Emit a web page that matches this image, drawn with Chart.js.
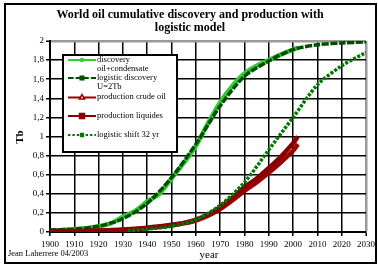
<!DOCTYPE html>
<html>
<head>
<meta charset="utf-8">
<script src="https://cdn.jsdelivr.net/npm/chart.js@4.4.1/dist/chart.umd.min.js"></script>
<style>
  body { margin: 0; background: #fff; }
  canvas { display: block; }
</style>
</head>
<body>
<canvas id="oilChart" width="378" height="265"></canvas>
<script>
// ================= DATA =================
const discYears  = [1900,1905,1910,1915,1920,1925,1930,1935,1940,1945,1950,1955,1960,1965,1970,1975,1980,1985,1990,1995,2000,2002];
const discValues = [0.01,0.02,0.03,0.04,0.06,0.09,0.16,0.22,0.32,0.40,0.56,0.72,0.90,1.14,1.36,1.53,1.66,1.74,1.80,1.86,1.91,1.93];

const logYears  = [1900,1910,1920,1930,1940,1950,1960,1970,1980,1990,2000,2010,2020,2030];
const logValues = [0.02,0.03,0.06,0.14,0.30,0.57,0.92,1.32,1.63,1.79,1.91,1.96,1.98,1.99];

const prodYears    = [1900,1910,1920,1930,1940,1950,1955,1960,1965,1970,1975,1980,1985,1990,1995,2000,2002];
const crudeValues  = [0.00,0.005,0.01,0.02,0.04,0.07,0.09,0.12,0.17,0.24,0.33,0.43,0.52,0.62,0.73,0.85,0.92];
const liquidValues = [0.01,0.01,0.015,0.025,0.045,0.075,0.095,0.13,0.18,0.26,0.36,0.47,0.56,0.67,0.79,0.93,1.00];

const shiftYears  = [1932,1940,1950,1960,1970,1980,1990,2000,2010,2020,2030];
const shiftValues = [0.01,0.03,0.06,0.13,0.28,0.52,0.86,1.20,1.54,1.74,1.88];

const titleLines = ["World oil cumulative discovery and production with", "logistic model"];
const legendItems = [
  ["discovery", "oil+condensate"],
  ["logistic discovery", "U=2Tb"],
  ["production crude oil"],
  ["production liquides"],
  ["logistic shift 32 yr"]
];

const SERIF = '"Liberation Serif", "Times New Roman", serif';

function pts(xs, ys) {
  return xs.map((x, i) => ({ x: x, y: ys[i] }));
}

// ================= DATASETS =================
const datasets = [
  {
    label: "discovery oil+condensate",
    data: pts(discYears, discValues),
    borderColor: "#33cc33", backgroundColor: "#33cc33",
    borderWidth: 4.5, pointRadius: 0,
    order: 5
  },
  {
    label: "logistic discovery U=2Tb",
    data: pts(logYears, logValues),
    borderColor: "#004d00", backgroundColor: "#004d00",
    borderWidth: 3.5, borderDash: [7, 1.5], pointRadius: 0,
    order: 4
  },
  {
    label: "production crude oil",
    data: pts(prodYears, crudeValues),
    borderColor: "#990000", backgroundColor: "#990000",
    borderWidth: 4.5, pointRadius: 0,
    order: 3
  },
  {
    label: "production liquides",
    data: pts(prodYears, liquidValues),
    borderColor: "#880000", backgroundColor: "#880000",
    borderWidth: 4.5, pointRadius: 0,
    order: 2
  },
  {
    label: "logistic shift 32 yr",
    data: pts(shiftYears, shiftValues),
    borderColor: "#007700", backgroundColor: "#007700",
    borderWidth: 3.5, borderDash: [3, 1.5], pointRadius: 0,
    order: 1
  }
];

// ================= DECORATION PLUGIN =================
const decor = {
  id: "decor",
  afterDraw(chart) {
    const ctx = chart.ctx;
    ctx.save();
    ctx.fillStyle = "#000";
    ctx.textAlign = "center";
    ctx.textBaseline = "middle";

    // title
    ctx.font = "bold 12px " + SERIF;
    ctx.fillText(titleLines[0], 190, 15);
    ctx.fillText(titleLines[1], 190, 28);

    // axis titles
    ctx.font = "11px " + SERIF;
    ctx.fillText("year", 209, 255);
    ctx.save();
    ctx.translate(20, 137);
    ctx.rotate(-Math.PI / 2);
    ctx.font = "bold 11px " + SERIF;
    ctx.fillText("Tb", 0, 0);
    ctx.restore();

    // credit
    ctx.textAlign = "left";
    ctx.font = "8.5px " + SERIF;
    ctx.fillText("Jean Laherrere 04/2003", 8, 254);

    // legend box
    const bx = 63, by = 55, bw = 114, bh = 97;
    ctx.fillStyle = "#fff";
    ctx.fillRect(bx, by, bw, bh);
    ctx.lineWidth = 2;
    ctx.strokeStyle = "#000";
    ctx.strokeRect(bx, by, bw, bh);

    const rowsY = [60, 78, 97.5, 116, 135];
    const styles = ["circle", "rect", "triangle", "rect", "rect"];
    const radii = [1.5, 2.5, 3, 3.5, 2];
    datasets.forEach((ds, i) => {
      const y = rowsY[i];
      ctx.save();
      ctx.strokeStyle = ds.borderColor;
      ctx.lineWidth = 2;
      ctx.setLineDash(ds.borderDash ? [ds.borderDash[0] * 0.8, 2] : []);
      ctx.beginPath();
      ctx.moveTo(68, y);
      ctx.lineTo(96, y);
      ctx.stroke();
      ctx.setLineDash([]);
      ctx.fillStyle = i === 2 ? "#fff" : ds.backgroundColor;
      ctx.lineWidth = 1.5;
      Chart.helpers.drawPoint(ctx, { pointStyle: styles[i], radius: radii[i], borderWidth: 1.5 }, 82, y);
      ctx.restore();

      ctx.fillStyle = "#000";
      ctx.font = "8.5px " + SERIF;
      ctx.textAlign = "left";
      ctx.fillText(legendItems[i][0], 97, y - 0.5);
      if (legendItems[i][1]) ctx.fillText(legendItems[i][1], 97, y + 9);
    });

    // outer frame
    ctx.lineWidth = 2;
    ctx.strokeStyle = "#000";
    ctx.strokeRect(5, 4, 371, 259);
    ctx.restore();
  }
};

// ================= CHART =================
new Chart(document.getElementById("oilChart"), {
  type: "line",
  data: { datasets },
  options: {
    responsive: false,
    animation: false,
    devicePixelRatio: 1,
    layout: { padding: { left: 0, top: 41, right: 10, bottom: 0 } },
    plugins: {
      legend: { display: false },
      tooltip: { enabled: false }
    },
    elements: { line: { tension: 0.3, capBezierPoints: true } },
    scales: {
      x: {
        type: "linear",
        min: 1900, max: 2030,
        afterFit(scale) { scale.height = 33; },
        ticks: {
          stepSize: 10, color: "#000", padding: 3, maxRotation: 0,
          font: { family: SERIF, size: 9 },
          callback: v => String(v)
        },
        grid: {
          color: c => (c.tick && c.tick.value === 2030 ? "#999" : "#000"),
          lineWidth: c => (c.tick && c.tick.value === 2030 ? 2.5 : 1.5),
          tickLength: 4, tickColor: "#000", tickWidth: 1.5
        },
        border: { color: "#000", width: 2 }
      },
      y: {
        min: 0, max: 2,
        afterFit(scale) { scale.width = 50; },
        ticks: {
          stepSize: 0.2, color: "#000", padding: 2,
          font: { family: SERIF, size: 9 },
          callback: v => String(Math.round(v * 10) / 10).replace(".", ",")
        },
        grid: {
          color: c => (c.tick && c.tick.value === 2 ? "#999" : "#000"),
          lineWidth: c => (c.tick && c.tick.value === 2 ? 2.5 : 1.5),
          tickLength: 4, tickColor: "#000", tickWidth: 1.5
        },
        border: { color: "#000", width: 2 }
      }
    }
  },
  plugins: [decor]
});
</script>
</body>
</html>
